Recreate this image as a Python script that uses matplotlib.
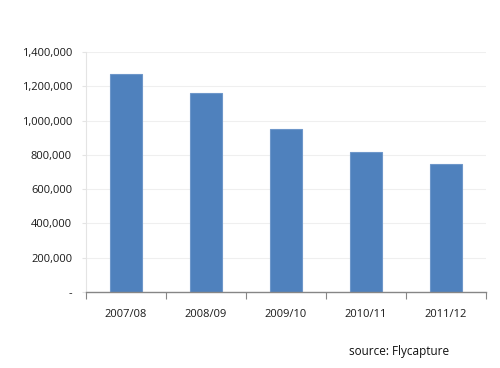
import matplotlib.pyplot as plt
from matplotlib.ticker import FuncFormatter

# Data
seasons = ['2007/08', '2008/09', '2009/10', '2010/11', '2011/12']
values = [1270000, 1162000, 949000, 819000, 745000]
yticks = [0, 200000, 400000, 600000, 800000, 1000000, 1200000, 1400000]

plt.rcParams['font.family'] = ['Open Sans', 'DejaVu Sans']

fig = plt.figure(figsize=(5, 3.68), dpi=100)
ax = fig.add_axes([0.172, 0.2065, 0.8, 0.652])

x = range(len(seasons))
ax.bar(x, values, width=0.4, color='#4F81BD', edgecolor='#6E97CA', linewidth=0.8, zorder=3)

# Axis limits and ticks
ax.set_xlim(-0.5, len(seasons) - 0.5)
ax.set_ylim(0, 1400000)
ax.set_yticks(yticks)
ax.yaxis.set_major_formatter(FuncFormatter(lambda v, p: '-' if v == 0 else f'{int(v):,}'))
ax.set_xticks(list(x))
ax.set_xticklabels(seasons)
ax.set_xticks([i - 0.5 for i in range(len(seasons) + 1)], minor=True)

ax.tick_params(axis='y', length=3, width=0.8, color='#E4E4E4', labelsize=8, pad=7, colors='#1a1a1a')
ax.tick_params(axis='y', color='#E4E4E4')
ax.tick_params(axis='x', which='major', length=0, labelsize=8, pad=12, colors='#1a1a1a')
ax.tick_params(axis='x', which='minor', length=5, width=0.8, color='#868686', direction='out')

# Gridlines
ax.yaxis.grid(True, color='#EFEFEF', linewidth=0.8, zorder=0)
ax.set_axisbelow(True)

for s in ['top', 'right']:
    ax.spines[s].set_visible(False)
ax.spines['left'].set_color('#E4E4E4')
ax.spines['left'].set_linewidth(0.8)
ax.spines['bottom'].set_color('#868686')
ax.spines['bottom'].set_linewidth(1.0)
ax.spines['bottom'].set_zorder(4)

fig.text(0.698, 0.044, 'source: Flycapture', fontsize=8.5, color='#111111', ha='left', va='center')

fig.savefig('out.png', dpi=100)
